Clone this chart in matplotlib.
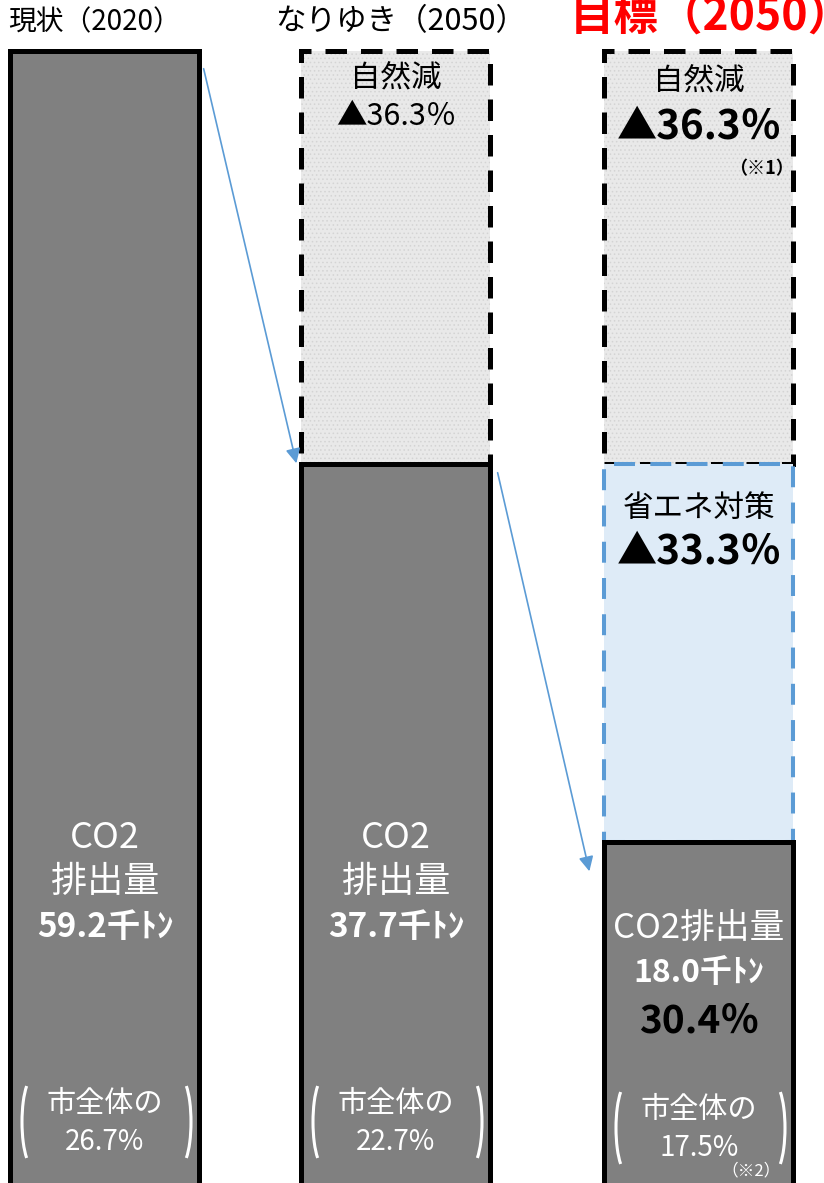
import numpy as np
import matplotlib
matplotlib.use("Agg")
import matplotlib.pyplot as plt
from matplotlib.patches import Arc

plt.rcParams['font.family'] = ['Noto Sans CJK JP', 'DejaVu Sans']
plt.rcParams['hatch.linewidth'] = 0.6

# データ（千トン）
titles = ["現状（2020）", "なりゆき（2050）", "目標（2050）"]
emission = [59.2, 37.7, 18.0]          # CO2排出量
natural_cut = [0.0, 21.5, 21.5]        # 自然減 ▲36.3％
saving_cut = [0.0, 0.0, 19.7]          # 省エネ対策 ▲33.3％
city_share = ["26.7%", "22.7%", "17.5%"]
natural_pct = "▲36.3％"
saving_pct = "▲33.3％"
remain_pct = "30.4％"

# レイアウト（ピクセル）
W, H = 824, 1183
xpos = [105, 396, 699]
bw = 189
ytop_px, ybot_px = 51, 1188

fig = plt.figure(figsize=(W / 100, H / 100), dpi=100)
ax = fig.add_axes([0, 0, 1, 1])
scale = (ybot_px - ytop_px) / emission[0]
ax.set_xlim(0, W)
ax.set_ylim(-(H - ybot_px) / scale, emission[0] + ytop_px / scale)
ax.axis("off")

gray = "#808080"
blue = "#5B9BD5"
lw_solid = 3.6

# 自然減（点線ボックス）
b1 = np.array(emission) + np.array(saving_cut)
ax.bar(xpos, natural_cut, bw, bottom=b1, color="#E9E9E9", edgecolor="#D4D4D4",
       hatch="....", linewidth=0, zorder=1)
ax.bar(xpos[1:], natural_cut[1:], bw, bottom=b1[1:], fill=False, edgecolor="black",
       linewidth=3.6, linestyle=(0, (4.3, 2.8)), zorder=2)

# 省エネ対策
ax.bar(xpos[2], saving_cut[2], bw, bottom=emission[2], color="#DEEBF7", linewidth=0, zorder=3)
ax.bar(xpos[2], saving_cut[2], bw, bottom=emission[2], fill=False, edgecolor=blue,
       linewidth=2.9, linestyle=(0, (5.2, 3.8)), zorder=4)

# CO2排出量
ax.bar(xpos, emission, bw, color=gray, edgecolor="black", linewidth=lw_solid,
       joinstyle="miter", zorder=5)

# 以下、ピクセル座標のオーバーレイ
ov = fig.add_axes([0, 0, 1, 1])
ov.set_xlim(0, W)
ov.set_ylim(H, 0)
ov.axis("off")
ov.patch.set_alpha(0)

# タイトル
ov.text(8, 22, titles[0], fontsize=20, ha="left", va="center")
ov.text(275, 22, titles[1], fontsize=22, ha="left", va="center")
ov.text(570, 17, titles[2], fontsize=32, ha="left", va="center", color="#FF0000",
        fontweight="bold")

# 矢印
ov.annotate("", xy=(297, 466), xytext=(203, 66),
            arrowprops=dict(arrowstyle="-|>", color=blue, lw=1.2, mutation_scale=22))
ov.annotate("", xy=(590, 874), xytext=(497, 470),
            arrowprops=dict(arrowstyle="-|>", color=blue, lw=1.2, mutation_scale=22))

# 自然減ラベル
ov.text(xpos[1], 79, "自然減", fontsize=22, ha="center", va="center")
ov.text(xpos[1], 116, natural_pct, fontsize=22, ha="center", va="center")
ov.text(xpos[2], 82, "自然減", fontsize=22, ha="center", va="center")
ov.text(xpos[2], 127, natural_pct, fontsize=29, ha="center", va="center", fontweight="bold")
ov.text(xpos[2] + 62, 169, "（※1）", fontsize=13, ha="center", va="center", fontweight="bold")

# 省エネ対策ラベル
ov.text(xpos[2], 508, "省エネ対策", fontsize=22, ha="center", va="center")
ov.text(xpos[2], 552, saving_pct, fontsize=29, ha="center", va="center", fontweight="bold")

# 排出量ラベル
for i in range(2):
    ov.text(xpos[i], 838, "CO2", fontsize=26, ha="center", va="center", color="white")
    ov.text(xpos[i], 882, "排出量", fontsize=26, ha="center", va="center", color="white")
    ov.text(xpos[i], 927, f"{emission[i]:.1f}千ﾄﾝ", fontsize=24, ha="center", va="center",
            color="white", fontweight="bold")
ov.text(xpos[2], 928, "CO2排出量", fontsize=25, ha="center", va="center", color="white")
ov.text(xpos[2], 973, f"{emission[2]:.1f}千ﾄﾝ", fontsize=23, ha="center", va="center",
        color="white", fontweight="bold")
ov.text(xpos[2], 1021, remain_pct, fontsize=28, ha="center", va="center", fontweight="bold")

# 市全体の割合（括弧付き）
share_y = [1122, 1122, 1128]
for i in range(3):
    cy = share_y[i]
    ov.text(xpos[i], cy - 18, "市全体の", fontsize=21, ha="center", va="center", color="white")
    ov.text(xpos[i], cy + 20, city_share[i], fontsize=20, ha="center", va="center", color="white")
    ov.add_patch(Arc((xpos[i] - 72, cy), 22, 88, theta1=100, theta2=260, color="white", lw=2.2))
    ov.add_patch(Arc((xpos[i] + 75, cy), 22, 88, theta1=-80, theta2=80, color="white", lw=2.2))
ov.text(xpos[2] + 52, 1171, "（※2）", fontsize=12, ha="center", va="center", color="white")

fig.savefig("out.png", dpi=100)
